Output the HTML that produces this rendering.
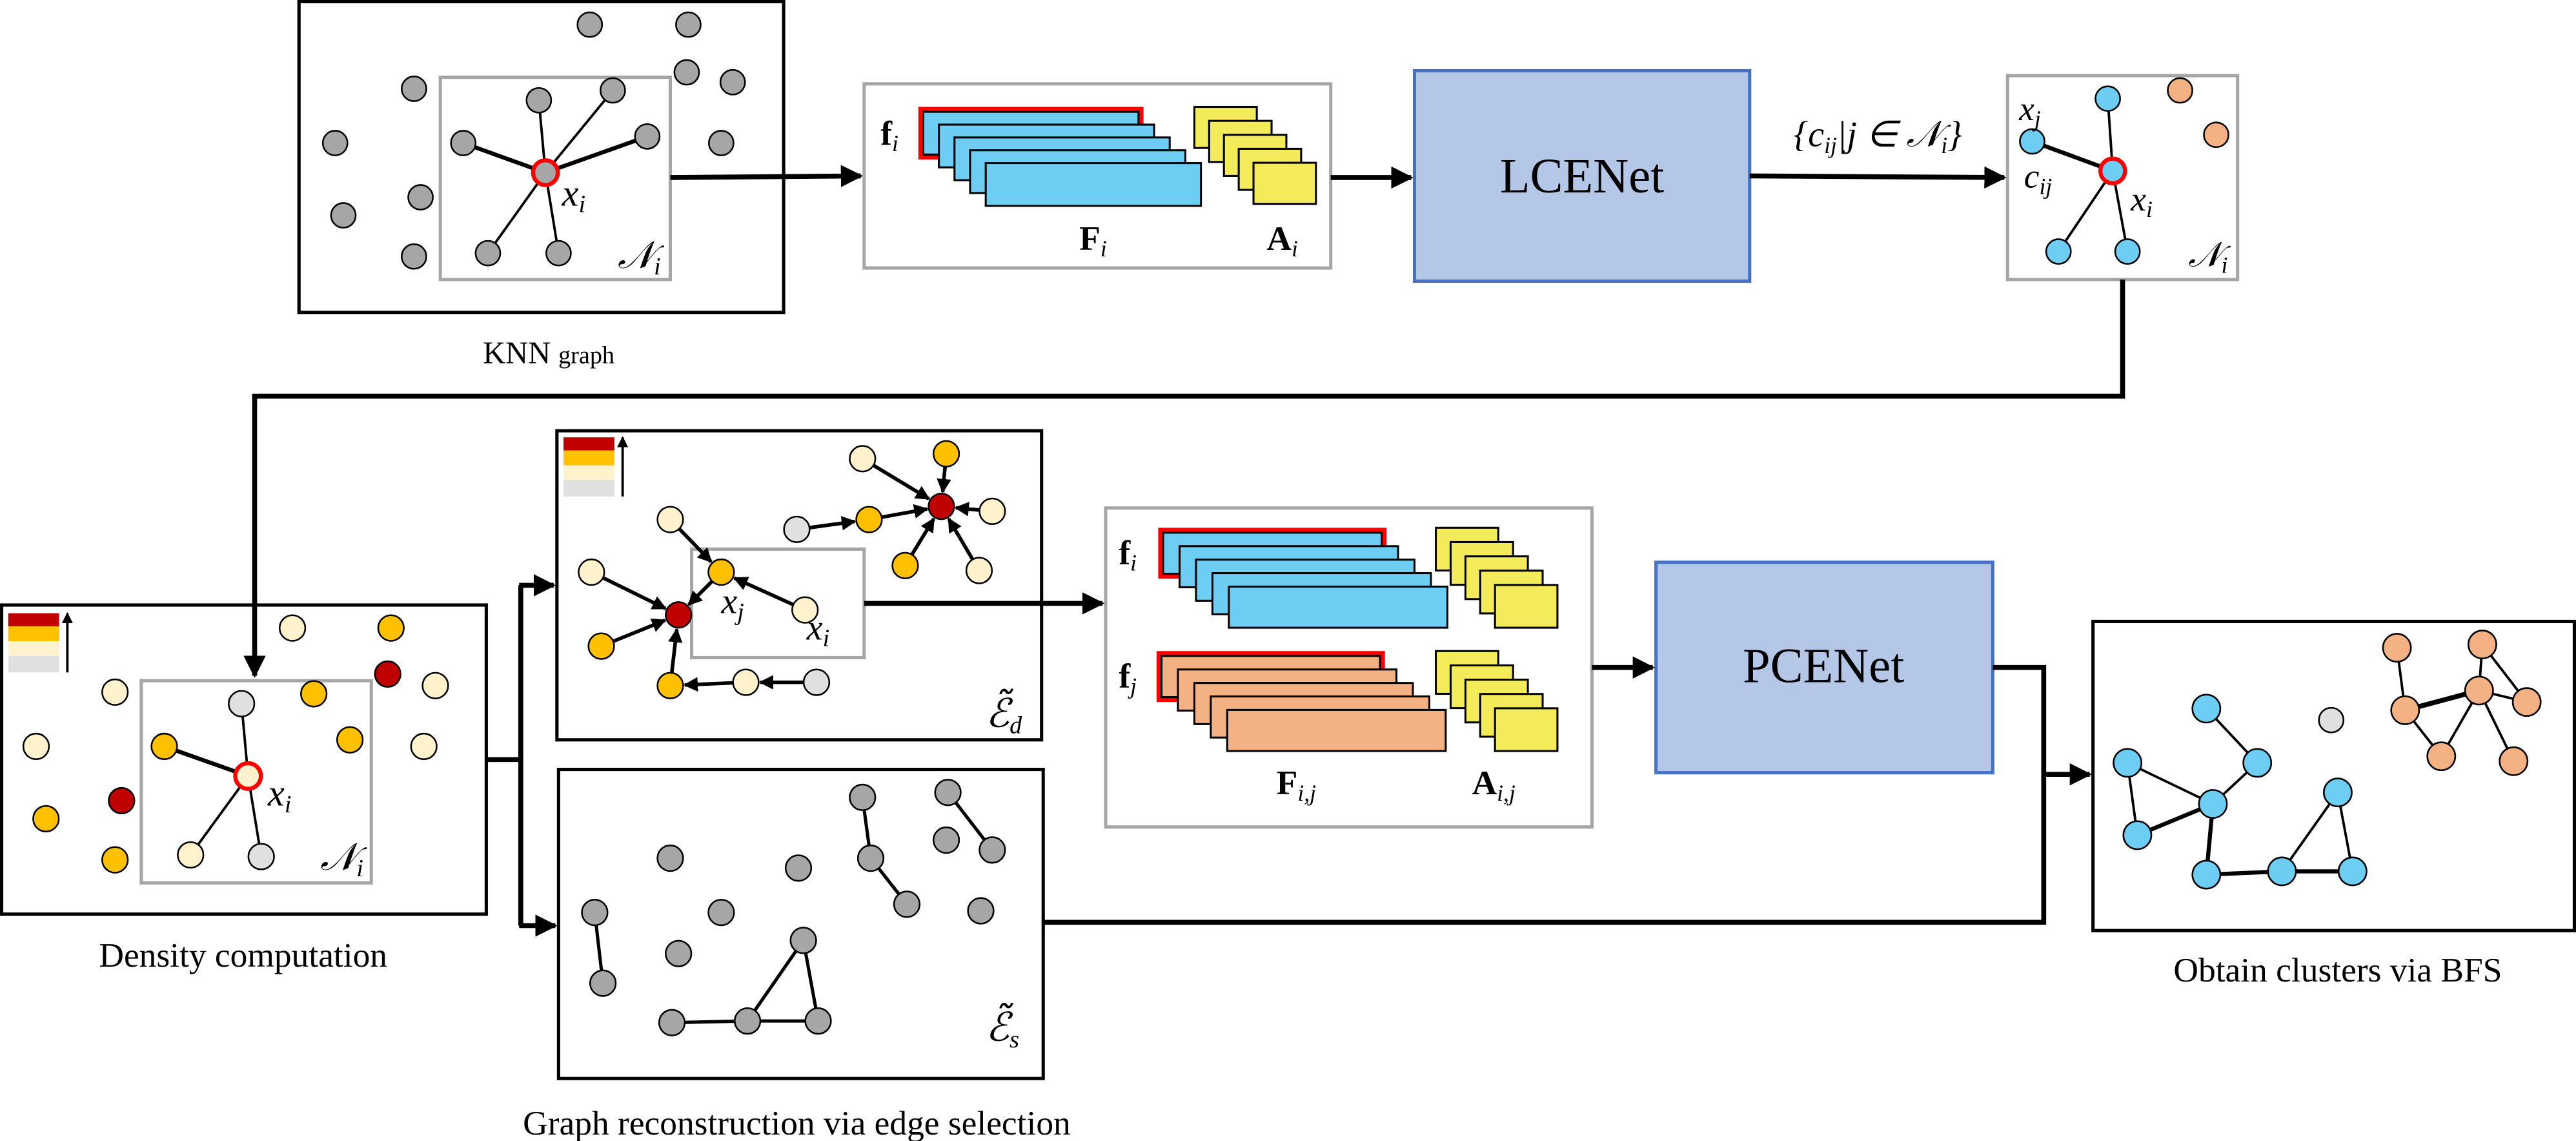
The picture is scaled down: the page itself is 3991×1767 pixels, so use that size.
<!DOCTYPE html>
<html><head><meta charset="utf-8"><style>
html,body{margin:0;padding:0;background:#fff;}
svg{display:block;}
text{font-family:"Liberation Serif",serif;fill:#000;}
.m{font-style:italic;}
</style></head><body>
<svg id="s" xmlns="http://www.w3.org/2000/svg" width="3991" height="1767" viewBox="0 0 1568 694" preserveAspectRatio="none">
<defs>
<marker id="ah" viewBox="0 0 10 10" refX="9" refY="5" markerWidth="4" markerHeight="4" orient="auto" markerUnits="strokeWidth"><path d="M0,0 L10,5 L0,10 z" fill="#000"/></marker>
<marker id="as" viewBox="0 0 10 10" refX="9" refY="5" markerWidth="4.5" markerHeight="4.5" orient="auto" markerUnits="strokeWidth"><path d="M0,0 L10,5 L0,10 z" fill="#000"/></marker>
</defs>
<rect x="182" y="1" width="295" height="189" fill="none" stroke="#000" stroke-width="2"/>
<rect x="268" y="47" width="140" height="123" fill="none" stroke="#a6a6a6" stroke-width="2"/>
<rect x="526" y="51" width="284" height="112" fill="#fff" stroke="#a6a6a6" stroke-width="2"/>
<rect x="861" y="43" width="204" height="128" fill="#b4c7e7" stroke="#4472c4" stroke-width="2"/>
<rect x="1222" y="46" width="140" height="124" fill="none" stroke="#a6a6a6" stroke-width="2"/>
<rect x="1" y="368" width="295" height="188" fill="none" stroke="#000" stroke-width="2"/>
<rect x="86" y="414" width="140" height="123" fill="none" stroke="#a6a6a6" stroke-width="2"/>
<rect x="339" y="262" width="295" height="188" fill="none" stroke="#000" stroke-width="2"/>
<rect x="421" y="334" width="105" height="66" fill="none" stroke="#a6a6a6" stroke-width="2"/>
<rect x="340" y="468" width="295" height="188" fill="none" stroke="#000" stroke-width="2"/>
<rect x="673" y="309" width="296" height="194" fill="#fff" stroke="#a6a6a6" stroke-width="2"/>
<rect x="1008" y="342" width="205" height="128" fill="#b4c7e7" stroke="#4472c4" stroke-width="2"/>
<rect x="1274" y="378" width="293" height="188" fill="none" stroke="#000" stroke-width="2"/>
<g stroke="#000" stroke-width="3" fill="none">
<line x1="408" y1="108" x2="524" y2="107" marker-end="url(#as)"/>
<line x1="810" y1="108" x2="859" y2="108" marker-end="url(#as)"/>
<line x1="1065" y1="107" x2="1220" y2="108" marker-end="url(#as)"/>
<polyline points="1292,170 1292,241 155,241 155,411" marker-end="url(#as)"/>
<polyline points="296,462 317,462"/>
<polyline points="317,356 317,563"/>
<line x1="316" y1="356" x2="337" y2="356" marker-end="url(#as)"/>
<line x1="316" y1="563" x2="338" y2="563" marker-end="url(#as)"/>
<line x1="526" y1="367" x2="671" y2="367" marker-end="url(#as)"/>
<line x1="969" y1="406" x2="1006" y2="406" marker-end="url(#as)"/>
<polyline points="1213,406 1244,406 1244,561 635,561"/>
<line x1="1243" y1="471" x2="1272" y2="471" marker-end="url(#as)"/>
</g>
<g id="g"></g>
<rect x="5" y="373" width="31" height="8" fill="#c00000"/><rect x="5" y="381" width="31" height="9" fill="#ffc000"/><rect x="5" y="390" width="31" height="9" fill="#fff2cc"/><rect x="5" y="399" width="31" height="10" fill="#e0e0e0"/>
<line x1="41" y1="409" x2="41" y2="373" stroke="#000" stroke-width="1.5" marker-end="url(#as)"/>
<rect x="343" y="266" width="31" height="8" fill="#c00000"/><rect x="343" y="274" width="31" height="9" fill="#ffc000"/><rect x="343" y="283" width="31" height="9" fill="#fff2cc"/><rect x="343" y="292" width="31" height="10" fill="#e0e0e0"/>
<line x1="379" y1="302" x2="379" y2="266" stroke="#000" stroke-width="1.5" marker-end="url(#as)"/>
<text x="334" y="221" font-size="19" text-anchor="middle">KNN <tspan font-size="15">graph</tspan></text>
<text x="963" y="117" font-size="30" text-anchor="middle">LCENet</text>
<text x="1110" y="415" font-size="30" text-anchor="middle">PCENet</text>
<text x="148" y="588" font-size="21" text-anchor="middle">Density computation</text>
<text x="485" y="690" font-size="21" text-anchor="middle">Graph reconstruction via edge selection</text>
<text x="1423" y="597" font-size="21" text-anchor="middle">Obtain clusters via BFS</text>
<text x="1143" y="89" font-size="22" text-anchor="middle" class="m">{c<tspan font-size="14" dy="4">ij</tspan><tspan dy="-4">|j ∈ 𝒩</tspan><tspan font-size="14" dy="4">i</tspan><tspan dy="-4">}</tspan></text>
<text x="342" y="125" font-size="23" class="m">x<tspan font-size="15" dy="4">i</tspan></text>
<text x="376" y="163" font-size="23" class="m">𝒩<tspan font-size="15" dy="4">i</tspan></text>
<text x="536" y="88" font-size="21" font-weight="bold">f<tspan font-size="14" dy="4" font-style="italic" font-weight="normal">i</tspan></text>
<text x="657" y="152" font-size="21" font-weight="bold">F<tspan font-size="14" dy="4" font-style="italic" font-weight="normal">i</tspan></text>
<text x="771" y="152" font-size="21" font-weight="bold">A<tspan font-size="14" dy="4" font-style="italic" font-weight="normal">i</tspan></text>
<text x="1229" y="73" font-size="21" class="m">x<tspan font-size="14" dy="4">j</tspan></text>
<text x="1232" y="114" font-size="21" class="m">c<tspan font-size="14" dy="4">ij</tspan></text>
<text x="1297" y="128" font-size="21" class="m">x<tspan font-size="14" dy="4">i</tspan></text>
<text x="1332" y="162" font-size="21" class="m">𝒩<tspan font-size="14" dy="4">i</tspan></text>
<text x="163" y="490" font-size="23" class="m">x<tspan font-size="15" dy="4">i</tspan></text>
<text x="195" y="529" font-size="23" class="m">𝒩<tspan font-size="15" dy="4">i</tspan></text>
<text x="439" y="373" font-size="22" class="m">x<tspan font-size="15" dy="4">j</tspan></text>
<text x="491" y="389" font-size="22" class="m">x<tspan font-size="15" dy="4">i</tspan></text>
<text x="600" y="442" font-size="24" class="m">ℰ̃<tspan font-size="15" dy="4">d</tspan></text>
<text x="600" y="633" font-size="24" class="m">ℰ̃<tspan font-size="15" dy="4">s</tspan></text>
<text x="681" y="343" font-size="21" font-weight="bold">f<tspan font-size="14" dy="4" font-style="italic" font-weight="normal">i</tspan></text>
<text x="681" y="418" font-size="21" font-weight="bold">f<tspan font-size="14" dy="4" font-style="italic" font-weight="normal">j</tspan></text>
<text x="777" y="483" font-size="21" font-weight="bold">F<tspan font-size="14" dy="4" font-style="italic" font-weight="normal">i,j</tspan></text>
<text x="896" y="483" font-size="21" font-weight="bold">A<tspan font-size="14" dy="4" font-style="italic" font-weight="normal">i,j</tspan></text>
</svg>
<script>
var NS="http://www.w3.org/2000/svg",G=document.getElementById("g");
function el(t,a){var e=document.createElementNS(NS,t);for(var k in a)e.setAttribute(k,a[k]);G.appendChild(e);return e;}
function stack(x,y,w,h,dx,dy,n,fill,red){
 if(red)el("rect",{x:x-3,y:y-3,width:w+6,height:h+6,fill:"#ff0000"});
 for(var i=0;i<n;i++)el("rect",{x:x+dx*i,y:y+dy*i,width:w,height:h,fill:fill,stroke:"#000","stroke-width":1.2});
}
stack(562,68,131,26,9.5,7.8,5,"#6dcdf3",1);
stack(727,65,38,25,9,8.5,5,"#f4eb5a",0);
stack(708,324,133,25,10,8.2,5,"#6dcdf3",1);
stack(874,321,38,26,9,8.7,5,"#f4eb5a",0);
stack(707,399,133,25,10,8.2,5,"#f4b183",1);
stack(874,396,38,26,9,8.7,5,"#f4eb5a",0);
function line(a,b,w){el("line",{x1:a[0],y1:a[1],x2:b[0],y2:b[1],stroke:"#000","stroke-width":w||1.5});}
function arr(a,b,r){var dx=b[0]-a[0],dy=b[1]-a[1],L=Math.hypot(dx,dy);var ux=dx/L,uy=dy/L;
 el("line",{x1:a[0]+ux*r,y1:a[1]+uy*r,x2:b[0]-ux*(r+1),y2:b[1]-uy*(r+1),stroke:"#000","stroke-width":2.2,"marker-end":"url(#ah)"});}
function node(p,f,r,red){el("circle",{cx:p[0],cy:p[1],r:r,fill:f,stroke:red?"#ff0000":"#000","stroke-width":red?2.5:1});}
var GR="#a6a6a6",C="#fff2cc",O="#ffc000",R="#c00000",L="#e0e0e0",B="#6dcdf3",P="#f4b183";
var xi=[332,105];
[[328,61],[373,55],[282,87],[394,83],[297,154],[340,154]].forEach(function(p,i){line(xi,p,(i==2||i==3)?2.5:1.5);});
[[359,15],[419,15],[418,44],[446,50],[252,54],[328,61],[373,55],[204,87],[282,87],[394,83],[439,87],[256,120],[209,131],[252,156],[297,154],[340,154]].forEach(function(p){node(p,GR,7.5);});
node(xi,GR,7.5,1);
var c=[1286,104];
line(c,[1283,60]);line(c,[1237,86],2.5);line(c,[1253,153]);line(c,[1295,153]);
[[1283,60],[1237,86],[1253,153],[1295,153]].forEach(function(p){node(p,B,7.5);});
node([1327,55],P,7.5);node([1349,82],P,7.5);node(c,B,7.5,1);
var d=[151,472];
line(d,[147,428]);line(d,[100,454],2.5);line(d,[116,520]);line(d,[159,521]);
[[178,382,C],[238,382,O],[236,410,R],[265,417,C],[70,421,C],[191,422,O],[147,428,L],[22,454,C],[100,454,O],[213,450,O],[258,454,C],[74,487,R],[28,498,O],[70,523,O],[116,520,C],[159,521,L]].forEach(function(p){node(p,p[2],7.8);});
node(d,C,7.8,1);
var E={a:[525,279,C],b:[576,276,O],r:[573,308,R],c:[604,311,C],d:[529,316,O],g:[485,322,L],e:[551,344,O],f:[596,347,C],h:[408,316,C],i:[439,348,O],j:[360,348,C],r2:[413,374,R],k:[490,371,C],l:[366,393,O],m:[408,417,O],n:[454,415,C],o:[497,415,L]};
[["a","r"],["b","r"],["c","r"],["d","r"],["g","d"],["e","r"],["f","r"],["h","i"],["k","i"],["i","r2"],["j","r2"],["l","r2"],["m","r2"],["n","m"],["o","n"]].forEach(function(q){arr(E[q[0]],E[q[1]],7.8);});
for(var k in E)node(E[k],E[k][2],7.8);
var S=[[525,485],[577,482],[576,511],[604,517],[530,522],[408,522],[486,528],[552,550],[597,554],[362,555],[439,555],[413,580],[489,572],[367,598],[409,622],[455,621],[498,621]];
[[0,4],[4,7],[1,3],[9,13],[14,15],[15,16],[15,12],[12,16]].forEach(function(q){line(S[q[0]],S[q[1]],2);});
S.forEach(function(p){node(p,GR,7.8);});
var Bn=[[1343,431],[1374,464],[1295,464],[1347,489],[1301,508],[1343,532],[1389,530],[1432,530],[1423,482]];
[[0,1],[1,3],[2,3],[2,4],[4,3],[3,5],[5,6],[6,7],[6,8],[8,7]].forEach(function(q,i){line(Bn[q[0]],Bn[q[1]],(i==4||i==5||i==6||i==7)?2.5:1.5);});
var On=[[1459,394],[1511,392],[1464,432],[1509,420],[1538,427],[1486,460],[1530,463]];
[[0,2],[2,3],[1,3],[1,4],[3,4],[2,5],[3,5],[3,6]].forEach(function(q,i){line(On[q[0]],On[q[1]],i==1?3:1.5);});
Bn.forEach(function(p){node(p,B,8.5);});On.forEach(function(p){node(p,P,8.5);});
node([1419,438],L,7.5);
</script>
</body></html>
